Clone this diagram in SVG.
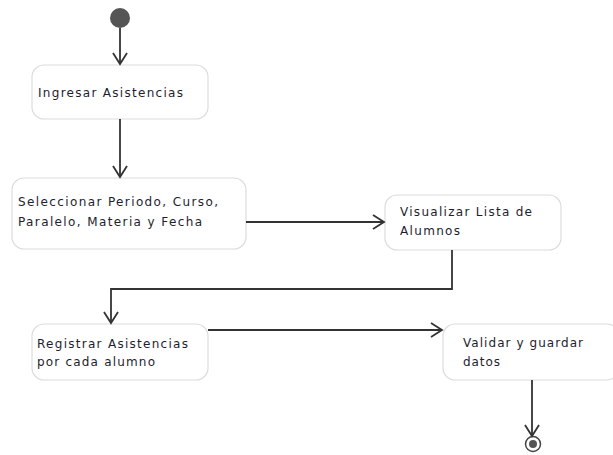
<svg xmlns="http://www.w3.org/2000/svg" width="613" height="455" viewBox="0 0 613 455">
<style>
.node rect{fill:#fff;stroke:#dcdcdc;stroke-width:1.2}
.node text{font-family:"DejaVu Sans",sans-serif;font-size:12px;fill:#1e1e2e}
.conn path{fill:none;stroke:#333;stroke-width:1.8}
</style>
<defs>
<marker id="arr" markerUnits="userSpaceOnUse" markerWidth="16" markerHeight="18" refX="13" refY="9" orient="auto">
<path d="M2,2 L13,9 L2,16" fill="none" stroke="#333" stroke-width="1.8"/>
</marker>
</defs>
<rect width="613" height="455" fill="#fff"/>
<g id="start"><circle cx="120" cy="18" r="10" fill="#555"/></g>
<g id="n1" class="node"><rect x="32" y="65" width="176" height="54" rx="12"/><text x="38" y="97" textLength="145">Ingresar Asistencias</text></g>
<g id="n2" class="node"><rect x="12" y="178" width="234" height="71" rx="12"/><text x="18" y="206" textLength="200">Seleccionar  Periodo,  Curso,</text><text x="18" y="226" textLength="184">Paralelo,  Materia  y  Fecha</text></g>
<g id="n3" class="node"><rect x="385" y="195" width="176" height="55" rx="12"/><text x="400" y="216" textLength="132">Visualizar Lista de</text><text x="400" y="235" textLength="60">Alumnos</text></g>
<g id="n4" class="node"><rect x="32" y="324" width="176" height="56" rx="12"/><text x="37" y="348" textLength="151">Registrar Asistencias</text><text x="37" y="366" textLength="118">por cada alumno</text></g>
<g id="n5" class="node"><rect x="443" y="324" width="176" height="56" rx="12"/><text x="463" y="347" textLength="120">Validar y guardar</text><text x="463" y="366" textLength="37">datos</text></g>
<g id="end"><circle cx="533" cy="444" r="7.5" fill="#fff" stroke="#444" stroke-width="1.5"/><circle cx="533" cy="444" r="4" fill="#555"/></g>
<g id="connectors" class="conn">
<path d="M120,28 V64" marker-end="url(#arr)"/>
<path d="M120,119 V177" marker-end="url(#arr)"/>
<path d="M246,222 H384" marker-end="url(#arr)"/>
<path d="M452,250 V289 H111 V323" marker-end="url(#arr)"/>
<path d="M208,330 H442" marker-end="url(#arr)"/>
<path d="M532,380 V436" marker-end="url(#arr)"/>
</g>
</svg>
